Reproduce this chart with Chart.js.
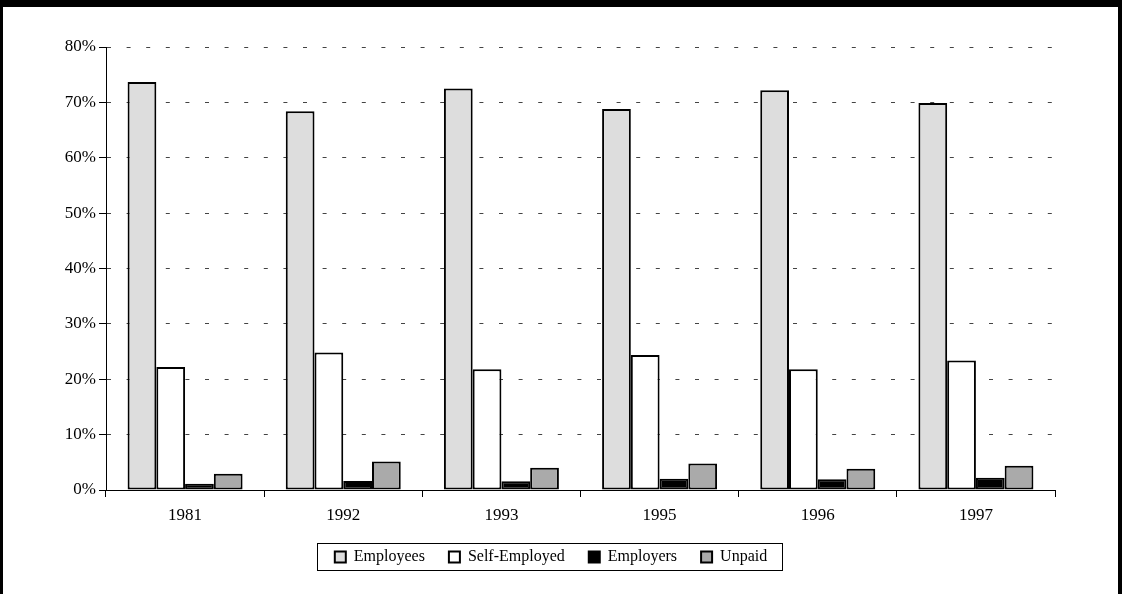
<!DOCTYPE html>
<html>
<head>
<meta charset="utf-8">
<script src="https://cdn.jsdelivr.net/npm/chart.js@4"></script>
<style>
  body { margin: 0; background: #fff; }
  #frame {
    width: 1122px; height: 594px; box-sizing: border-box;
    border-top: 7px solid #000; border-left: 3px solid #000; border-right: 4px solid #000;
    background: #fff;
  }
  canvas { display: block; }
</style>
</head>
<body>
<div id="frame"><canvas id="myChart" width="1115" height="587"></canvas></div>
<script>
const years = ["1981", "1992", "1993", "1995", "1996", "1997"];
const employees = [73.7, 68.4, 72.5, 68.8, 72.2, 69.9];
const selfEmployed = [22.2, 24.85, 21.8, 24.4, 21.8, 23.4];
const employers = [1.15, 1.63, 1.6, 2.05, 1.93, 2.23];
const unpaid = [2.95, 5.13, 4.04, 4.77, 3.86, 4.4];
const yTicks = [0, 10, 20, 30, 40, 50, 60, 70, 80];

const serif = "'Liberation Serif', 'Times New Roman', serif";

// draws the thin frame round the legend items
const legendBox = {
  id: "legendBox",
  afterDraw(chart) {
    const boxes = chart.legend.legendHitBoxes;
    if (!boxes || !boxes.length) return;
    let left = Infinity, right = -Infinity, top = Infinity, bottom = -Infinity;
    boxes.forEach((b) => {
      left = Math.min(left, b.left);
      right = Math.max(right, b.left + b.width);
      top = Math.min(top, b.top);
      bottom = Math.max(bottom, b.top + b.height);
    });
    const ctx = chart.ctx;
    ctx.save();
    ctx.strokeStyle = "#000";
    ctx.lineWidth = 1;
    ctx.strokeRect(Math.round(left - 18) + 0.5, Math.round(top - 6) + 0.5,
      Math.round(right - left + 33), Math.round(bottom - top + 11));
    ctx.restore();
  },
};

function makeSet(label, data, color) {
  return {
    label: label,
    data: data,
    backgroundColor: color,
    borderColor: "#000",
    borderWidth: 2,
    borderSkipped: false,
    categoryPercentage: 0.727,
    barPercentage: 1,
  };
}

const ctx = document.getElementById("myChart").getContext("2d");
const myChart = new Chart(ctx, {
  type: "bar",
  data: {
    labels: years,
    datasets: [
      makeSet("Employees", employees, "#dddddd"),
      makeSet("Self-Employed", selfEmployed, "#ffffff"),
      makeSet("Employers", employers, "#000000"),
      makeSet("Unpaid", unpaid, "#aaaaaa"),
    ],
  },
  options: {
    responsive: false,
    animation: false,
    devicePixelRatio: 1,
    layout: { padding: { left: 44, right: 63, top: 40, bottom: 19 } },
    plugins: {
      tooltip: { enabled: false },
      legend: {
        position: "bottom",
        labels: {
          color: "#000",
          font: { family: serif, size: 16 },
          boxWidth: 11,
          boxHeight: 11,
          padding: 24,
        },
      },
    },
    scales: {
      x: {
        grid: {
          offset: true,
          drawOnChartArea: false,
          tickLength: 7,
          tickColor: "#000",
          tickWidth: 1,
        },
        border: { color: "#000", width: 1 },
        ticks: { color: "#000", font: { family: serif, size: 17 }, padding: 8 },
        afterFit: (s) => { s.height = 35; },
      },
      y: {
        min: 0,
        max: 80,
        afterBuildTicks: (s) => { s.ticks = yTicks.map((v) => ({ value: v })); },
        grid: {
          color: "#444",
          lineWidth: 1,
          tickLength: 7,
          tickColor: "#000",
          tickWidth: 1,
          tickBorderDash: [],
        },
        border: { color: "#000", width: 1, dash: [4, 15.6] },
        ticks: {
          color: "#000",
          font: { family: serif, size: 17 },
          padding: 3,
          callback: (v) => v + "%",
        },
        afterFit: (s) => { s.width = 59; },
      },
    },
  },
  plugins: [legendBox],
});
</script>
</body>
</html>
